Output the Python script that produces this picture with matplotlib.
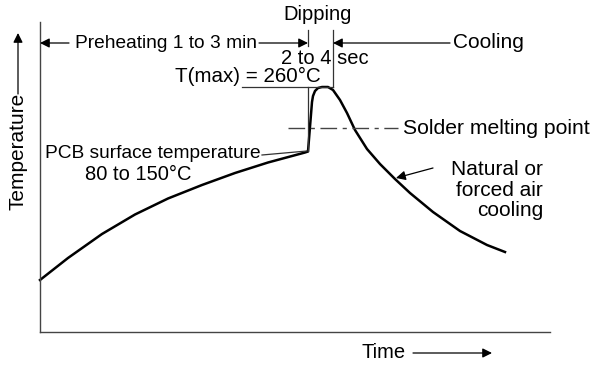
import matplotlib
matplotlib.use("Agg")
import matplotlib.pyplot as plt

# wave soldering temperature profile (arbitrary units, time vs temperature)
time_pts = [0, 28, 62, 95, 128, 162, 195, 228, 265, 268,
            272, 273, 275, 278, 282, 288, 293, 300, 307, 315,
            327, 340, 355, 370, 393, 420, 447, 465]
temp_pts = [52, 74, 98, 117.5, 133.5, 147, 159, 169.5, 179.5, 180.5,
            230, 236, 241, 244, 245, 245, 242, 232, 219, 202,
            183, 168, 153, 139, 120, 101, 87, 80]

tmax_temp = 245
melt_temp = 204
dip_start, dip_end = 268, 293

plt.rcParams['font.family'] = ['Liberation Sans', 'DejaVu Sans']
fs = 14.5

fig = plt.figure(figsize=(5.96, 3.66), dpi=100)
ax = fig.add_axes([40/596, 34/366, 510/596, 310/366])
ax.plot(time_pts, temp_pts, color='black', lw=1.8, solid_joinstyle='round', clip_on=False)
ax.set_xlim(0, 510)
ax.set_ylim(0, 310)
ax.set_xticks([])
ax.set_yticks([])
for s in ['top', 'right']:
    ax.spines[s].set_visible(False)
for s in ['left', 'bottom']:
    ax.spines[s].set_color('#444444')
    ax.spines[s].set_linewidth(1.0)

thin = dict(color='#333333', lw=0.9, clip_on=False)
arr = dict(arrowstyle='-|>', color='black', lw=0.9, mutation_scale=14, shrinkA=0, shrinkB=0)

def arrow(x0, y0, x1, y1):
    ax.annotate('', xy=(x1, y1), xytext=(x0, y0), arrowprops=arr, annotation_clip=False)

# phase markers at top
ax.text(278, 317, 'Dipping', fontsize=fs, ha='center', va='center')
ax.text(126, 289, 'Preheating 1 to 3 min', fontsize=13.8, ha='center', va='center')
arrow(29, 289, 0, 289)
arrow(219, 289, dip_start, 289)
ax.text(413, 289, 'Cooling', fontsize=15, ha='left', va='center')
arrow(410, 289, dip_end, 289)
ax.plot([dip_start, dip_start], [302, 286], **thin)
ax.plot([dip_start, dip_start], [tmax_temp, 181], **thin)
ax.plot([dip_end, dip_end], [302, tmax_temp], **thin)
ax.text(285, 274, '2 to 4 sec', fontsize=fs, ha='center', va='center')

# T(max)
ax.text(208, 256, 'T(max) = 260°C', fontsize=14.8, ha='center', va='center')
ax.plot([202, dip_end], [tmax_temp, tmax_temp], **thin)

# solder melting point
ax.plot([248, 358], [melt_temp, melt_temp], color='#444444', lw=1.0,
        dashes=(12, 4, 3, 4), clip_on=False)
ax.text(363, melt_temp, 'Solder melting point', fontsize=15.2, ha='left', va='center')

# PCB surface temperature
ax.text(5, 179, 'PCB surface temperature', fontsize=13.8, ha='left', va='center')
ax.plot([222, 267], [177, 181], **thin)
ax.text(98, 157, '80 to 150°C', fontsize=fs, ha='center', va='center')

# cooling note
ax.text(503, 142, 'Natural or\nforced air\ncooling', fontsize=15, ha='right', va='center',
        multialignment='right', linespacing=1.1)
arrow(393, 164, 356, 154)

# axis labels with arrows
ax.text(322, -21, 'Time', fontsize=fs, ha='left', va='center')
arrow(373, -21, 452, -21)
ax.text(-22, 181, 'Temperature', fontsize=15, ha='center', va='center', rotation=90)
arrow(-22, 238, -22, 299)

fig.savefig('out.png', dpi=100)
